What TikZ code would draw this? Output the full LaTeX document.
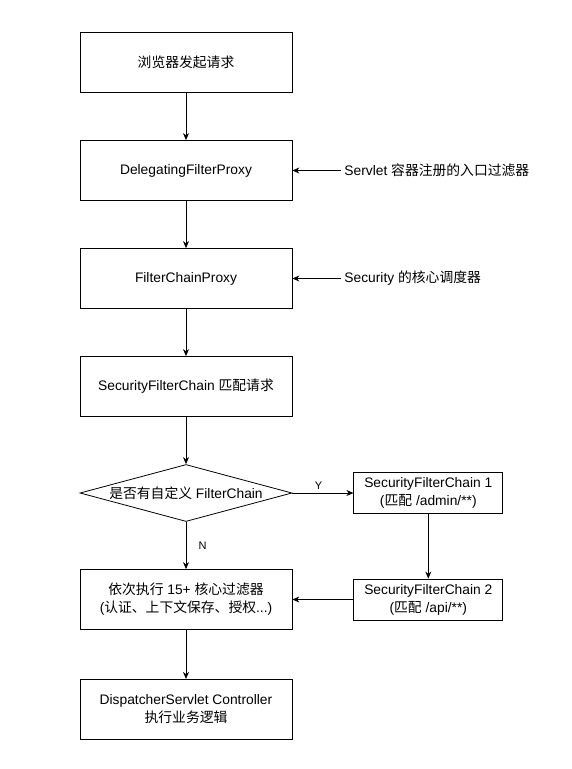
\documentclass[tikz,border=0pt]{standalone}
\usepackage{fontspec}
\setmainfont{Liberation Sans}
\newfontfamily\cjk{Noto Sans CJK SC}
\usetikzlibrary{positioning, arrows.meta, shapes.geometric}

\begin{document}
\begin{tikzpicture}[
        x=1pt, y=-1pt,
        box/.style={
            rectangle,
            draw=black,
            line width=0.8pt,
            align=center,
            minimum width=212pt,
            minimum height=60pt,
            font=\fontsize{13.8}{18}\selectfont
        },
        chainbox/.style={
            box,
            minimum width=149pt,
            minimum height=41pt
        },
        decision/.style={
            diamond,
            draw=black,
            line width=0.8pt,
            aspect=3.7,
            inner sep=0pt,
            minimum width=212pt,
            minimum height=57pt,
            font=\fontsize{13.8}{18}\selectfont
        },
        note/.style={font=\fontsize{13.8}{18}\selectfont, anchor=west},
        arrow/.style={-{Stealth[length=7pt, width=6pt]}, line width=0.8pt, black},
        node distance=47.2pt and 61pt
    ]
    \useasboundingbox (0,0) rectangle (572,769);

    % 主流程
    \node[box] (browser) at (186,62.5) {{\cjk 浏览器发起请求}};
    \node[box, below=of browser] (delegating) {DelegatingFilterProxy};
    \node[box, below=of delegating] (chainproxy) {FilterChainProxy};
    \node[box, below=of chainproxy] (match) {SecurityFilterChain {\cjk 匹配请求}};
    \node[decision, below=of match] (custom) {{\cjk 是否有自定义} FilterChain};
    \node[box, below=of custom] (filters) {{\cjk 依次执行} 15+ {\cjk 核心过滤器}\\({\cjk 认证、上下文保存、授权}...)};
    \node[box, below=49pt of filters] (dispatcher) {DispatcherServlet Controller\\{\cjk 执行业务逻辑}};

    % 自定义 FilterChain
    \node[chainbox, right=of custom] (chainone) {SecurityFilterChain 1\\({\cjk 匹配} /admin/**)};
    \node[chainbox] (chaintwo) at (chainone |- filters) {SecurityFilterChain 2\\({\cjk 匹配} /api/**)};

    % 说明
    \node[note, right=48.5pt of delegating] (servletnote) {Servlet {\cjk 容器注册的入口过滤器}};
    \node[note, right=48.5pt of chainproxy] (securitynote) {Security {\cjk 的核心调度器}};

    % 箭头
    \draw[arrow] (browser) -- (delegating);
    \draw[arrow] (delegating) -- (chainproxy);
    \draw[arrow] (chainproxy) -- (match);
    \draw[arrow] (match) -- (custom);
    \draw[arrow] (custom) -- node[right=9pt, pos=0.5, font=\fontsize{11}{13}\selectfont]{N} (filters);
    \draw[arrow] (filters) -- (dispatcher);
    \draw[arrow] (custom.east) -- node[above, pos=0.43, font=\fontsize{11}{13}\selectfont]{Y} (chainone);
    \draw[arrow] (chainone) -- (chaintwo);
    \draw[arrow] (chaintwo) -- (filters);
    \draw[arrow] (servletnote) -- (delegating);
    \draw[arrow] (securitynote) -- (chainproxy);

\end{tikzpicture}
\end{document}
